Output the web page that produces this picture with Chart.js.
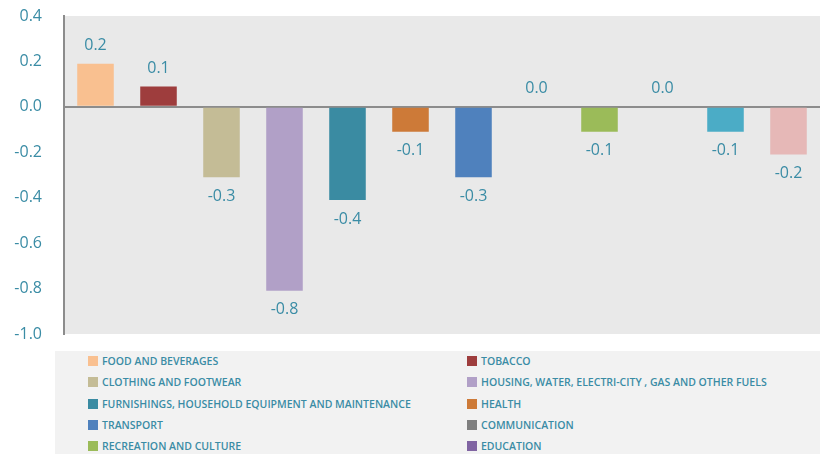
<!DOCTYPE html>
<html>
<head>
<meta charset="utf-8">
<script src="https://cdn.jsdelivr.net/npm/chart.js@4"></script>
<style>
  html, body { margin: 0; padding: 0; background: #fff; width: 820px; height: 454px; overflow: hidden; font-family: "Open Sans", "Noto Sans", sans-serif; }
  #wrap { position: absolute; left: 0; top: 0; width: 820px; height: 350px; }
  #legend { position: absolute; left: 55px; top: 351px; width: 765px; height: 140px; background: #F2F2F2; z-index: 2; }
  .item { position: absolute; font-size: 10.5px; font-weight: 600; color: #3A8CA5; white-space: nowrap; line-height: 12px; }
  .sw { display: inline-block; width: 10px; height: 10px; vertical-align: -1px; margin-right: 4px; }
</style>
</head>
<body>
<div id="wrap"><canvas id="c"></canvas></div>
<div id="legend"></div>
<script>
const categories = [
  "FOOD AND BEVERAGES",
  "TOBACCO",
  "CLOTHING AND FOOTWEAR",
  "HOUSING, WATER, ELECTRI-CITY , GAS AND OTHER FUELS",
  "FURNISHINGS, HOUSEHOLD EQUIPMENT AND MAINTENANCE",
  "HEALTH",
  "TRANSPORT",
  "COMMUNICATION",
  "RECREATION AND CULTURE",
  "EDUCATION",
  "RESTAURANTS AND HOTELS",
  "MISCELLANEOUS GOODS AND SERVICES"
];
const values = [0.19, 0.09, -0.31, -0.81, -0.41, -0.11, -0.31, 0.0, -0.11, 0.0, -0.11, -0.21];
const labels = ["0.2", "0.1", "-0.3", "-0.8", "-0.4", "-0.1", "-0.3", "0.0", "-0.1", "0.0", "-0.1", "-0.2"];
const colors = ["#F9C090", "#9E3D3D", "#C4BC96", "#B1A0C7", "#3A8BA2", "#CD7A38", "#4F81BD", "#7F7F7F", "#9BBB59", "#8064A2", "#4BACC6", "#E6B8B7"];
const yTicks = [0.4, 0.2, 0.0, -0.2, -0.4, -0.6, -0.8, -1.0];

const TEXT = "#3A8CA5";
const FONT = "'Open Sans', 'Noto Sans', sans-serif";

const bgPlugin = {
  id: "bg",
  beforeDraw(chart) {
    const a = chart.chartArea, ctx = chart.ctx;
    ctx.save();
    ctx.fillStyle = "#E9E9E9";
    ctx.fillRect(a.left, a.top, a.right - a.left, a.bottom - a.top);
    ctx.restore();
  }
};

const labelPlugin = {
  id: "vlabels",
  afterDatasetsDraw(chart) {
    const ctx = chart.ctx;
    const meta = chart.getDatasetMeta(0);
    ctx.save();
    ctx.font = "500 16px " + FONT;
    ctx.fillStyle = TEXT;
    ctx.textAlign = "center";
    ctx.textBaseline = "middle";
    meta.data.forEach((bar, i) => {
      const v = values[i];
      const y = v >= 0 ? bar.y - 18 : bar.y + 19;
      ctx.fillText(labels[i], bar.x, y);
    });
    ctx.restore();
  }
};

new Chart(document.getElementById("c"), {
  type: "bar",
  data: {
    labels: categories,
    datasets: [{
      data: values,
      backgroundColor: colors,
      borderWidth: 0,
      barPercentage: 0.58,
      categoryPercentage: 1.0
    }]
  },
  options: {
    responsive: true,
    maintainAspectRatio: false,
    animation: false,
    layout: { padding: { top: 16, bottom: 16, left: 0, right: 0 } },
    plugins: { legend: { display: false }, tooltip: { enabled: false } },
    scales: {
      x: { display: false },
      y: {
        min: -1.0, max: 0.4,
        afterBuildTicks(scale) { scale.ticks = yTicks.map(v => ({ value: v })); },
        afterFit(scale) { scale.width = 64; },
        border: { display: true, color: "#8C8C8C", width: 2 },
        grid: {
          drawTicks: true,
          tickLength: 22,
          tickColor: "rgba(0,0,0,0)",
          color: ctx => (ctx.tick && ctx.tick.value === 0 ? "#8C8C8C" : "rgba(0,0,0,0)"),
          lineWidth: 2
        },
        ticks: {
          padding: 0,
          color: TEXT,
          font: { size: 16, weight: "500", family: FONT },
          callback: v => Number(v).toFixed(1)
        }
      }
    }
  },
  plugins: [bgPlugin, labelPlugin]
});

// HTML legend (two columns) from the arrays
const legend = document.getElementById("legend");
categories.forEach((name, i) => {
  const col = i % 2, row = Math.floor(i / 2);
  const d = document.createElement("div");
  d.className = "item";
  d.style.left = (col === 0 ? 33 : 412) + "px";
  d.style.top = (4 + row * 21.3) + "px";
  d.innerHTML = '<span class="sw" style="background:' + colors[i] + '"></span>' + name;
  legend.appendChild(d);
});
</script>
</body>
</html>
